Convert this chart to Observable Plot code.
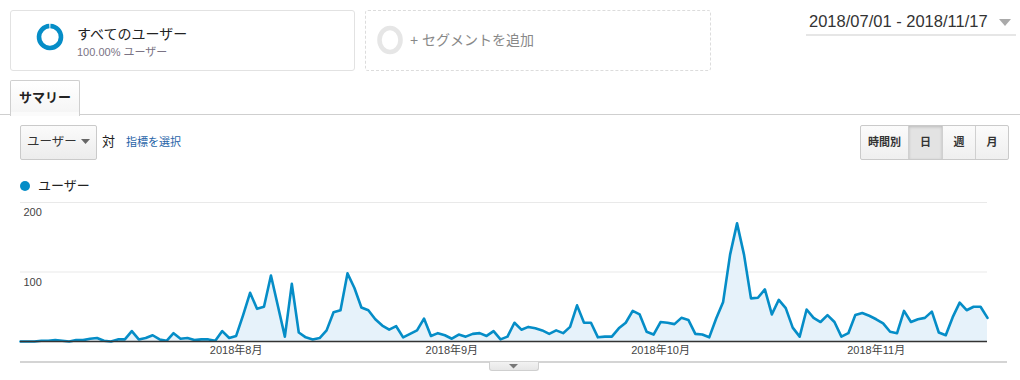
<!DOCTYPE html>
<html><head><meta charset="utf-8">
<script src="https://cdn.jsdelivr.net/npm/d3@7"></script>
<script src="https://cdn.jsdelivr.net/npm/@observablehq/plot@0.6"></script>
<style>
body{margin:0;background:#fff;font-family:Arial,"Liberation Sans","Noto Sans CJK JP",sans-serif;color:#222;}
#page{position:relative;width:1020px;height:380px;overflow:hidden;background:#fff;}
.a{position:absolute;white-space:nowrap;}
.seg1{left:10px;top:10px;width:343px;height:59px;border:1px solid #e2e2e2;border-radius:3px;}
.seg2{left:365px;top:10px;width:344px;height:59px;border:1px dashed #dcdcdc;border-radius:3px;}
.tab{left:10px;top:80px;width:68px;height:35px;border:1px solid #cfcfcf;border-bottom:none;background:linear-gradient(#fff,#f4f4f4);border-radius:2px 2px 0 0;}
.hline{left:0;top:114px;width:1020px;height:1px;background:#cfcfcf;}
.dd{left:20px;top:125px;width:75px;height:33px;border:1px solid #cacaca;border-radius:2px;background:linear-gradient(#fbfbfb,#ececec);}
.btns{left:860px;top:125px;width:147px;height:33px;border:1px solid #cacaca;border-radius:2px;background:linear-gradient(#fbfbfb,#efefef);}
.btn{position:absolute;top:0;height:33px;line-height:33px;text-align:center;font-size:11px;font-weight:bold;color:#333;border-right:1px solid #d0d0d0;}
#chart{position:absolute;left:0;top:195px;}
</style></head><body><div id="page">
<div class="a seg1"></div>
<svg class="a" style="left:36px;top:23px" width="28" height="28"><circle cx="14" cy="14" r="11" fill="none" stroke="#058dc7" stroke-width="4.6" stroke-dasharray="67.6 1.5" transform="rotate(-88 14 14)"/></svg>
<div class="a" style="left:77px;top:24px;font-size:14px;color:#222;font-family:'Noto Sans CJK JP',sans-serif;line-height:18px">すべてのユーザー</div>
<div class="a" style="left:77px;top:45px;font-size:11px;color:#7a7384;line-height:14px">100.00% ユーザー</div>
<div class="a seg2"></div>
<svg class="a" style="left:376px;top:25px" width="28" height="30"><ellipse cx="14" cy="15" rx="10.5" ry="12" fill="none" stroke="#e6e6e6" stroke-width="4.6"/></svg>
<div class="a" style="left:410px;top:31px;font-size:14px;color:#888;line-height:18px">+ セグメントを追加</div>
<div class="a" style="left:809px;top:11px;font-size:16.5px;color:#333;line-height:20px">2018/07/01 - 2018/11/17</div>
<svg class="a" style="left:998px;top:18px" width="14" height="10"><path d="M1,1 L13,1 L7,8 Z" fill="#aaa"/></svg>
<div class="a" style="left:806px;top:34px;width:210px;height:2px;background:#e6e6e6"></div>
<div class="a hline"></div>
<div class="a tab"></div>
<div class="a" style="left:11px;top:112px;width:68px;height:4px;background:#fbfbfb"></div>
<div class="a" style="left:19px;top:89px;font-size:13px;font-weight:bold;color:#222;line-height:18px">サマリー</div>
<div class="a dd"></div>
<div class="a" style="left:27px;top:134px;font-size:12.5px;color:#333;line-height:16px">ユーザー</div>
<svg class="a" style="left:81px;top:139px" width="10" height="6"><path d="M0,0 L9,0 L4.5,5 Z" fill="#666"/></svg>
<div class="a" style="left:102px;top:133px;font-size:13px;color:#222;line-height:17px">対</div>
<div class="a" style="left:126px;top:135px;font-size:11px;color:#1f64a8;line-height:14px">指標を選択</div>
<div class="a btns">
<div class="btn" style="left:0;width:47px">時間別</div>
<div class="btn" style="left:48px;width:33px;background:#e3e3e3;box-shadow:inset 0 1px 3px rgba(0,0,0,0.18)">日</div>
<div class="btn" style="left:82px;width:32px">週</div>
<div class="btn" style="left:115px;width:32px;border-right:none">月</div>
</div>
<svg class="a" style="left:19px;top:180px" width="12" height="12"><circle cx="6" cy="6" r="5" fill="#058dc7"/></svg>
<div class="a" style="left:38px;top:177px;font-size:13px;color:#222;line-height:18px">ユーザー</div>
<div id="chart"></div>
<div class="a" style="left:20px;top:361px;width:987px;height:2px;background:#d4d4d4"></div>
<div class="a" style="left:489px;top:362px;width:48px;height:8px;border:1px solid #cfcfcf;border-top:none;border-radius:0 0 3px 3px;background:linear-gradient(#f2f2f2,#e6e6e6)"></div>
<svg class="a" style="left:509px;top:364px" width="10" height="6"><path d="M0,0 L9,0 L4.5,4.5 Z" fill="#777"/></svg>
</div>
<script>
const startDate = "2018-07-01";
const seriesName = "ユーザー";
const users = [
  0, 0, 0, 1, 1, 2, 1, 0, 2, 2,
  4, 5, 1, 0, 3, 3, 15, 3, 5, 9,
  3, 1, 12, 4, 5, 2, 3, 3, 1, 15,
  5, 8, 38, 70, 47, 50, 95, 51, 7, 83,
  13, 6, 3, 5, 16, 42, 45, 98, 77, 49,
  45, 32, 23, 17, 22, 6, 11, 16, 33, 8,
  12, 9, 4, 10, 7, 11, 12, 8, 15, 3,
  7, 27, 17, 21, 19, 16, 11, 16, 12, 21,
  52, 27, 27, 6, 7, 7, 19, 27, 44, 39,
  14, 10, 28, 27, 25, 34, 31, 11, 10, 6,
  33, 57, 125, 170, 125, 62, 63, 75, 39, 60,
  48, 20, 7, 46, 34, 28, 38, 28, 7, 12,
  38, 41, 37, 32, 26, 14, 12, 44, 28, 32,
  34, 43, 13, 9, 35, 56, 45, 50, 50, 34
];
const monthTicks = ["2018-08-01", "2018-09-01", "2018-10-01", "2018-11-01"];
const monthLabels = ["2018年8月", "2018年9月", "2018年10月", "2018年11月"];
const yTicks = [100, 200];

const start = new Date(startDate + "T00:00:00Z");
const days = d3.utcDay.range(start, d3.utcDay.offset(start, users.length));
const data = users.map((v, i) => ({date: days[i], value: v}));
const tickDates = monthTicks.map(d => new Date(d + "T00:00:00Z"));
const labelOf = new Map(tickDates.map((d, i) => [+d, monthLabels[i]]));

const chart = Plot.plot({
  width: 1020, height: 175,
  marginLeft: 20, marginRight: 33, marginTop: 7, marginBottom: 29,
  x: {type: "utc", domain: [days[0], days[days.length - 1]], axis: null},
  y: {domain: [0, 200], axis: null},
  style: {fontFamily: "Arial, 'Liberation Sans', 'Noto Sans CJK JP', sans-serif", fontSize: "11px", color: "#444", background: "transparent"},
  marks: [
    Plot.ruleY(yTicks, {stroke: "#e9e9e9", strokeWidth: 1}),
    Plot.areaY(data, {x: "date", y: "value", fill: "#e6f2fa"}),
    Plot.lineY(data, {x: "date", y: "value", stroke: "#058dc7", strokeWidth: 2.6, curve: "linear"}),
    Plot.ruleY([0], {stroke: "#333", strokeWidth: 1.5}),
    Plot.axisX(tickDates, {anchor: "bottom", tickSize: 0, tickPadding: 5, tickFormat: d => labelOf.get(+d), fill: "#444"}),
    Plot.text(yTicks, {y: d => d, text: d => String(d), frameAnchor: "left", textAnchor: "start", dx: 3, dy: 10, fill: "#444"})
  ]
});
document.getElementById("chart").appendChild(chart);
</script>
</body></html>
